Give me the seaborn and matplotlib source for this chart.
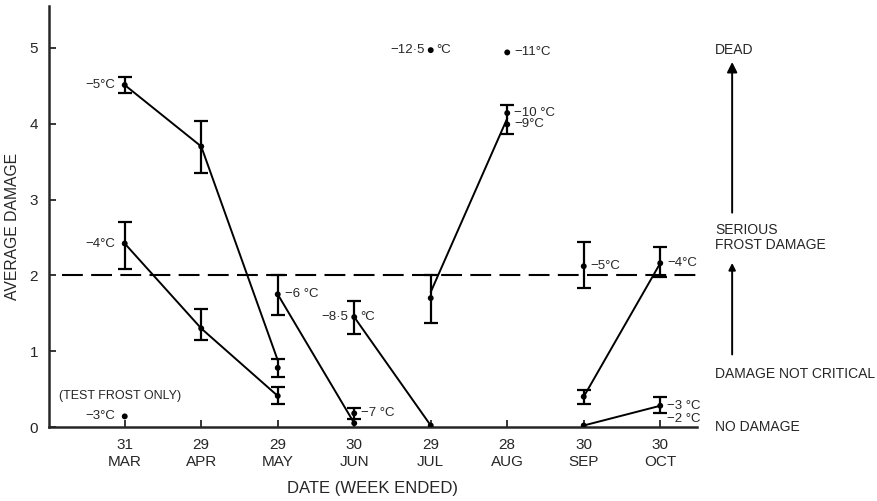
import matplotlib
matplotlib.use("Agg")
import matplotlib.pyplot as plt
import numpy as np
import pandas as pd
import seaborn as sns

sns.set_style("ticks")
plt.rcParams["font.family"] = ["Liberation Sans", "DejaVu Sans"]

months = ["31\nMAR", "29\nAPR", "29\nMAY", "30\nJUN", "29\nJUL", "28\nAUG", "30\nSEP", "30\nOCT"]

# measured points: month index, mean damage, error bar low/high (nan = none)
pt_month = [0, 1, 2, 0, 1, 2, 0, 2, 3, 3, 4, 3, 4, 5, 5, 4, 5, 6, 6, 7, 6, 7]
pt_value = [4.51, 3.70, 0.78, 2.42, 1.30, 0.41, 0.14, 1.75, 0.05, 1.45, 0.02, 0.18,
            1.70, 4.14, 3.99, 4.97, 4.94, 2.12, 0.40, 2.16, 0.02, 0.28]
pt_low = [4.40, 3.35, 0.66, 2.09, 1.15, 0.30, np.nan, 1.48, np.nan, 1.22, np.nan, 0.10,
          1.37, 3.86, np.nan, np.nan, np.nan, 1.83, 0.30, 1.98, np.nan, 0.18]
pt_high = [4.61, 4.04, 0.90, 2.71, 1.55, 0.53, np.nan, 2.00, np.nan, 1.66, np.nan, 0.25,
           2.00, 4.24, np.nan, np.nan, np.nan, 2.44, 0.49, 2.38, np.nan, 0.40]

# connecting lines (frost temperature runs)
line_a_x, line_a_y = [0, 1, 2], [4.51, 3.70, 0.88]
line_b_x, line_b_y = [0, 1, 2], [2.42, 1.30, 0.41]
line_c_x, line_c_y = [2, 3], [1.75, 0.05]
line_d_x, line_d_y = [3, 4], [1.45, 0.02]
line_e_x, line_e_y = [4, 5], [1.78, 4.07]
line_f_x, line_f_y = [6, 7], [0.40, 2.16]
line_g_x, line_g_y = [6, 7], [0.02, 0.28]

# temperature labels: month, value, text, side
lab_month = [0, 0, 0, 2, 3, 5, 5, 5, 6, 7, 7, 7]
lab_value = [4.51, 2.42, 0.14, 1.75, 0.18, 4.94, 4.14, 3.99, 2.12, 2.16, 0.28, 0.10]
lab_text = ["−5°C", "−4°C", "−3°C", "−6 °C", "−7 °C", "−11°C", "−10 °C", "−9°C",
            "−5°C", "−4°C", "−3 °C", "−2 °C"]
lab_side = ["left", "left", "left", "right", "right", "right", "right", "right",
            "right", "right", "right", "right"]

# labels split around the dot
split_month = [3, 4]
split_value = [1.45, 4.97]
split_left = ["−8·5", "−12·5"]

pts = pd.DataFrame({"month": pt_month, "damage": pt_value, "lo": pt_low, "hi": pt_high})
lines = pd.concat([
    pd.DataFrame({"month": x, "damage": y, "run": name})
    for name, x, y in [("a", line_a_x, line_a_y), ("b", line_b_x, line_b_y),
                       ("c", line_c_x, line_c_y), ("d", line_d_x, line_d_y),
                       ("e", line_e_x, line_e_y), ("f", line_f_x, line_f_y),
                       ("g", line_g_x, line_g_y)]
])

fig = plt.figure(figsize=(8.78, 5.01), dpi=100)
ax = fig.add_axes([0.0558, 0.1477, 0.738, 0.840])

ax.axhline(2, xmin=0.02, xmax=1, color="black", lw=1.5, ls=(0, (10, 4)))

sns.lineplot(data=lines, x="month", y="damage", units="run", estimator=None,
             color="black", lw=1.4, ax=ax)

eb = pts.dropna()
ax.errorbar(eb["month"], eb["damage"],
            yerr=[eb["damage"] - eb["lo"], eb["hi"] - eb["damage"]],
            fmt="none", ecolor="black", elinewidth=1.6, capsize=5, capthick=1.6)

sns.scatterplot(data=pts, x="month", y="damage", color="black", s=18,
                edgecolor="none", ax=ax, zorder=5)

for m, v, t, side in zip(lab_month, lab_value, lab_text, lab_side):
    if side == "left":
        ax.annotate(t, (m, v), xytext=(-7, 0), textcoords="offset points",
                    ha="right", va="center", fontsize=9.5)
    else:
        ax.annotate(t, (m, v), xytext=(5, 0), textcoords="offset points",
                    ha="left", va="center", fontsize=9.5)

for m, v, t in zip(split_month, split_value, split_left):
    ax.annotate(t, (m, v), xytext=(-4, 0), textcoords="offset points",
                ha="right", va="center", fontsize=9.5)
    ax.annotate("°C", (m, v), xytext=(4, 0), textcoords="offset points",
                ha="left", va="center", fontsize=9.5)

ax.text(-0.86, 0.41, "(TEST FROST ONLY)", fontsize=9, va="center", ha="left")

# right-hand damage scale
ax.text(7.72, 4.97, "DEAD", fontsize=10, va="center", clip_on=False)
ax.annotate("", xy=(7.94, 4.85), xytext=(7.94, 2.79),
            arrowprops=dict(arrowstyle="-|>,head_width=0.3,head_length=0.6",
                            color="black", lw=1.4), annotation_clip=False)
ax.text(7.72, 2.5, "SERIOUS\nFROST DAMAGE", fontsize=10, va="center",
        linespacing=1.1, clip_on=False)
ax.annotate("", xy=(7.94, 2.20), xytext=(7.94, 0.92),
            arrowprops=dict(arrowstyle="-|>,head_width=0.2,head_length=0.4",
                            color="black", lw=1.4), annotation_clip=False)
ax.text(7.72, 0.70, "DAMAGE NOT CRITICAL", fontsize=10, va="center", clip_on=False)
ax.text(7.72, 0.0, "NO DAMAGE", fontsize=10, va="center", clip_on=False)

ax.set_xlim(-0.99, 7.48)
ax.set_ylim(0, 5.55)
ax.set_xticks(range(len(months)))
ax.set_xticklabels(months, fontsize=11, linespacing=1.3)
ax.set_yticks(range(6))
ax.set_yticklabels([str(i) for i in range(6)], fontsize=11)
ax.tick_params(direction="in", length=5, width=1.3, pad=8)
ax.set_xlabel("DATE (WEEK ENDED)", fontsize=12, labelpad=8)
ax.set_ylabel("AVERAGE DAMAGE", fontsize=11.3)
ax.yaxis.set_label_coords(-0.045, 0.477)
sns.despine(ax=ax)
for s in ["left", "bottom"]:
    ax.spines[s].set_linewidth(1.8)

fig.savefig("out.png", dpi=100)
